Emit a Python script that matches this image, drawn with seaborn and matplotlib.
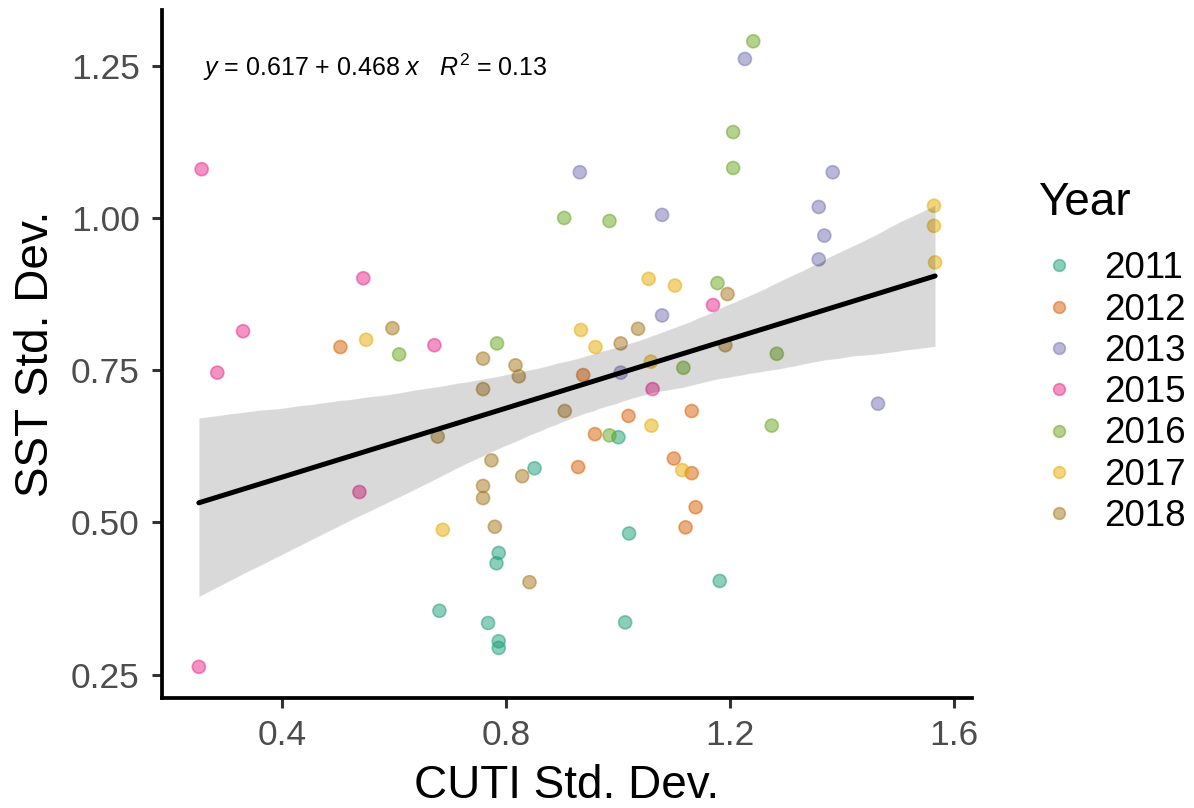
import pandas as pd
import matplotlib.pyplot as plt
import seaborn as sns

# CUTI std. dev. (x) and SST std. dev. (y) per year
years = ["2011", "2012", "2013", "2015", "2016", "2017", "2018"]

cuti_2011 = [1.001, 0.851, 1.020, 0.787, 0.783, 1.182, 0.681, 0.768, 1.013, 0.787, 0.787]
sst_2011 = [0.640, 0.589, 0.482, 0.450, 0.433, 0.404, 0.355, 0.335, 0.336, 0.305, 0.294]

cuti_2012 = [0.504, 0.938, 1.019, 1.132, 0.959, 1.100, 1.132, 0.929, 1.139, 1.121]
sst_2012 = [0.788, 0.742, 0.675, 0.683, 0.645, 0.605, 0.581, 0.591, 0.525, 0.492]

cuti_2013 = [1.227, 0.932, 1.079, 1.384, 1.359, 1.369, 1.359, 1.079, 1.005, 1.465]
sst_2013 = [1.261, 1.075, 1.005, 1.075, 1.018, 0.971, 0.932, 0.840, 0.746, 0.695]

cuti_2015 = [0.256, 0.545, 0.330, 0.672, 0.284, 0.538, 0.251, 1.170, 1.062]
sst_2015 = [1.080, 0.901, 0.814, 0.791, 0.746, 0.550, 0.263, 0.857, 0.719]

cuti_2016 = [1.242, 1.206, 1.206, 0.904, 0.985, 1.178, 0.784, 0.609, 1.117, 0.985, 1.284, 1.275]
sst_2016 = [1.290, 1.141, 1.082, 1.000, 0.995, 0.893, 0.794, 0.776, 0.754, 0.643, 0.777, 0.659]

cuti_2017 = [1.055, 1.102, 0.934, 0.550, 0.960, 1.059, 1.060, 1.115, 0.687, 1.565, 1.565, 1.567]
sst_2017 = [0.900, 0.889, 0.816, 0.800, 0.788, 0.764, 0.659, 0.586, 0.488, 1.020, 0.987, 0.927]

cuti_2018 = [0.597, 1.036, 1.005, 1.196, 1.192, 0.759, 0.817, 0.823, 0.759, 0.905,
             0.678, 0.774, 0.829, 0.759, 0.759, 0.780, 0.842]
sst_2018 = [0.819, 0.818, 0.794, 0.875, 0.791, 0.769, 0.758, 0.740, 0.719, 0.683,
            0.641, 0.602, 0.576, 0.560, 0.540, 0.493, 0.402]

x_ticks = [0.4, 0.8, 1.2, 1.6]
y_ticks = [0.25, 0.50, 0.75, 1.00, 1.25]
eq_label = r"$y$ = 0.617 + 0.468 $x$   $R^2$ = 0.13"

cuti_by_year = [cuti_2011, cuti_2012, cuti_2013, cuti_2015, cuti_2016, cuti_2017, cuti_2018]
sst_by_year = [sst_2011, sst_2012, sst_2013, sst_2015, sst_2016, sst_2017, sst_2018]

df = pd.concat(
    [pd.DataFrame({"cuti_sd": xs, "sst_sd": ys, "Year": yr})
     for yr, xs, ys in zip(years, cuti_by_year, sst_by_year)],
    ignore_index=True,
)

sns.set_theme(style="ticks")
plt.rcParams["font.family"] = ["Liberation Sans", "DejaVu Sans"]
plt.rcParams["text.color"] = "black"
plt.rcParams["axes.labelcolor"] = "black"
plt.rcParams["mathtext.fontset"] = "custom"
plt.rcParams["mathtext.rm"] = "Liberation Sans"
plt.rcParams["mathtext.it"] = "Liberation Sans:italic"

fig = plt.figure(figsize=(11.94, 8.08), dpi=100)
ax = fig.add_axes([0.1357, 0.136, 0.6783, 0.8516])

sns.scatterplot(
    data=df, x="cuti_sd", y="sst_sd",
    hue="Year", hue_order=years, palette="Dark2",
    s=88, alpha=0.5, edgecolor="face", linewidth=1.2, ax=ax,
)
sns.regplot(
    data=df, x="cuti_sd", y="sst_sd", scatter=False,
    color="black", ci=95, n_boot=2000, seed=11,
    line_kws={"linewidth": 3.6}, ax=ax,
)

ax.text(0.258, 1.247, eq_label, fontsize=18, color="black", ha="left", va="center")

ax.set_xticks(x_ticks)
ax.set_xticklabels([f"{t:.1f}" for t in x_ticks])
ax.set_yticks(y_ticks)
ax.set_yticklabels([f"{t:.2f}" for t in y_ticks])

sns.despine(ax=ax)
for side in ["left", "bottom"]:
    ax.spines[side].set_linewidth(2.7)
    ax.spines[side].set_color("black")
ax.tick_params(axis="both", length=7, width=2.2, color="#333333",
               labelsize=25.5, labelcolor="#4D4D4D")
ax.tick_params(axis="x", pad=8)
ax.tick_params(axis="y", pad=9)

ax.set_xlabel("CUTI Std. Dev.", fontsize=33, labelpad=9)
ax.set_ylabel("SST Std. Dev.", fontsize=33, labelpad=9.5)

handles, labels = ax.get_legend_handles_labels()
ax.get_legend().remove()
fig.legend(
    handles, labels, loc="upper left", bbox_to_anchor=(1040 / 1194, 0.6889),
    frameon=False, fontsize=26.5, markerscale=0.9,
    handlelength=1.03, handletextpad=0.7, labelspacing=0.17,
    borderpad=0, borderaxespad=0,
)
fig.text(1038 / 1194, 1 - 215 / 808, "Year", fontsize=33, ha="left", va="baseline")

plt.savefig("out.png", dpi=100)
